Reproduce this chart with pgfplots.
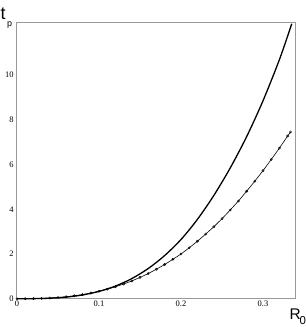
\documentclass[border=0pt]{standalone}
\usepackage{fontspec}
\setmainfont{Liberation Serif}
\newfontfamily\labfont{Liberation Sans}
\usepackage{pgfplots}
\pgfplotsset{compat=1.18}
\begin{document}
\begin{tikzpicture}[x=1bp,y=1bp]
\path[use as bounding box] (-17bp,-28.3bp) rectangle (289bp,298.7bp);
\begin{axis}[
  at={(0,0)}, anchor=origin,
  scale only axis,
  width=279bp, height=276bp,
  xmin=-0.0012, xmax=0.3390,
  ymin=0, ymax=12.35,
  axis line style={draw=gray!80, line width=0.8pt},
  xtick={0,0.1,0.2,0.3},
  xticklabels={0,0.1,0.2,0.3},
  ytick={0,2,4,6,8,10},
  major tick length=0pt,
  tick label style={font=\fontsize{8.5}{10}\selectfont},
  /pgf/number format/assume math mode=true,
  xticklabel style={yshift=1bp},
  yticklabel style={xshift=1bp},
  clip=false,
]
\addplot[black, line width=1.3pt, smooth] coordinates {
(0,0) (0.02,0.0026) (0.04,0.021) (0.06,0.0706) (0.08,0.167) (0.10,0.327)
(0.12,0.565) (0.14,0.90) (0.16,1.35) (0.18,1.93) (0.20,2.65) (0.22,3.55)
(0.24,4.62) (0.26,5.85) (0.28,7.25) (0.30,8.86) (0.32,10.70) (0.335,12.30)
};
\addplot[black, line width=0.6pt, mark=o, mark size=1.1pt, mark options={line width=0.5pt}] coordinates {
(0,0) (0.01,0.001) (0.02,0.005) (0.03,0.015) (0.04,0.031) (0.05,0.055)
(0.06,0.088) (0.07,0.131) (0.08,0.185) (0.09,0.252) (0.10,0.332)
(0.11,0.424) (0.12,0.533) (0.13,0.656) (0.14,0.795) (0.15,0.952)
(0.16,1.126) (0.17,1.318) (0.18,1.529) (0.19,1.760) (0.20,2.00)
(0.21,2.28) (0.22,2.57) (0.23,2.89) (0.24,3.22) (0.25,3.58)
(0.26,3.97) (0.27,4.37) (0.28,4.81) (0.29,5.26) (0.30,5.73)
(0.31,6.23) (0.32,6.74) (0.33,7.28) (0.3335,7.46)
};
\end{axis}
\node[anchor=base west, inner sep=0pt, font=\labfont\fontsize{18}{20}\selectfont] at (-16.5bp,278.7bp) {t};
\node[anchor=base west, inner sep=0pt, font=\labfont\fontsize{9}{10}\selectfont] at (-10bp,272.5bp) {p};
\node[anchor=base west, inner sep=0pt, font=\labfont\fontsize{15.5}{18}\selectfont] at (272.5bp,-20.3bp) {R};
\node[anchor=base west, inner sep=0pt, font=\labfont\fontsize{11.5}{13}\selectfont] at (282.5bp,-26.2bp) {0};
\end{tikzpicture}
\end{document}
